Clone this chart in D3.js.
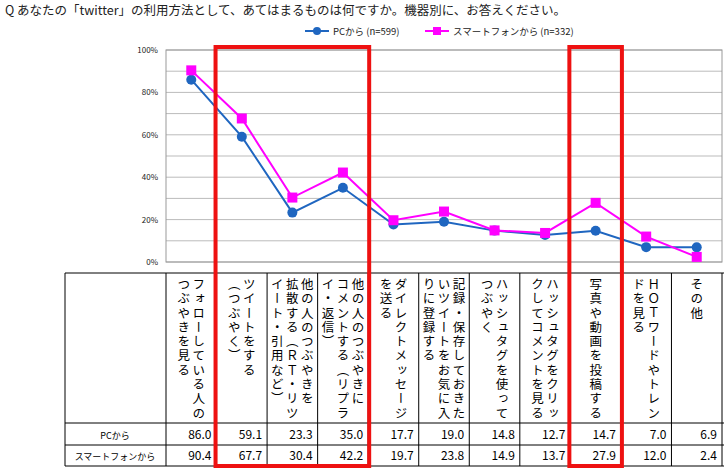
<!DOCTYPE html>
<html><head><meta charset="utf-8">
<script src="https://cdn.jsdelivr.net/npm/d3@7"></script>
<style>body{margin:0;background:#fff}text{font-family:"Noto Sans CJK JP",sans-serif}</style>
</head><body><div id="c"></div>
<script>
// カテゴリ（縦書き、右から左へ行が並ぶ）
const categories = [
  ["フォローしている人の","つぶやきを見る"],
  ["ツイートをする","（つぶやく）"],
  ["他の人のつぶやきを","拡散する（ＲＴ・リツ","イート・引用など）"],
  ["他の人のつぶやきに","コメントする（リプラ","イ・返信）"],
  ["ダイレクトメッセージ","を送る"],
  ["記録・保存しておきた","いツイートをお気に入","りに登録する"],
  ["ハッシュタグを使って","つぶやく"],
  ["ハッシュタグをクリッ","クしてコメントを見る"],
  ["写真や動画を投稿する"],
  ["ＨＯＴワードやトレン","ドを見る"],
  ["その他"]
];
const pcValues = [86.0,59.1,23.3,35.0,17.7,19.0,14.8,12.7,14.7,7.0,6.9];
const spValues = [90.4,67.7,30.4,42.2,19.7,23.8,14.9,13.7,27.9,12.0,2.4];
const seriesNames = ["PCから (n=599)","スマートフォンから (n=332)"];
const rowLabels = ["PCから","スマートフォンから"];
const yTicks = [0,20,40,60,80,100];
const highlights = [[1,3],[8,8]];

const W=728,H=472;
const svg=d3.select("#c").append("svg").attr("width",W).attr("height",H);
const x=d3.scaleBand().domain(d3.range(categories.length)).range([166,722]);
const y=d3.scaleLinear().domain([0,100]).range([262,50]);

svg.append("text").attr("x",5).attr("y",15).attr("font-size",12.5).attr("fill","#222")
  .text("Q あなたの「twitter」の利用方法として、あてはまるものは何ですか。機器別に、お答えください。");

// grid
svg.append("g").selectAll("line").data(d3.range(0,101,10)).join("line")
  .attr("x1",166).attr("x2",722).attr("y1",d=>y(d)).attr("y2",d=>y(d))
  .attr("stroke","#bbb").attr("stroke-width",1);
svg.append("rect").attr("x",166).attr("y",y(100)).attr("width",556).attr("height",y(0)-y(100))
  .attr("fill","none").attr("stroke","#999");
const ax=svg.append("g").attr("transform","translate(166,0)")
  .call(d3.axisLeft(y).tickValues(yTicks).tickFormat(d=>d+"%").tickSize(0).tickPadding(8));
ax.select(".domain").remove();
ax.selectAll("text").attr("font-size",8).attr("fill","#222");

const series=[{v:pcValues,c:"#1f66c0",sq:false},{v:spValues,c:"#ff00ff",sq:true}];
const line=d3.line().x((d,i)=>x(i)+x.bandwidth()/2).y(d=>y(d));
series.forEach(s=>{
  svg.append("path").attr("d",line(s.v)).attr("fill","none").attr("stroke",s.c).attr("stroke-width",2);
  const g=svg.append("g");
  if(s.sq) g.selectAll("rect").data(s.v).join("rect")
    .attr("x",(d,i)=>x(i)+x.bandwidth()/2-5).attr("y",d=>y(d)-5).attr("width",10).attr("height",10).attr("fill",s.c);
  else g.selectAll("circle").data(s.v).join("circle")
    .attr("cx",(d,i)=>x(i)+x.bandwidth()/2).attr("cy",d=>y(d)).attr("r",5).attr("fill",s.c);
});

// legend
[[305,0],[425,1]].forEach(([lx,i])=>{
  const s=series[i];
  svg.append("line").attr("x1",lx).attr("x2",lx+24).attr("y1",31).attr("y2",31).attr("stroke",s.c).attr("stroke-width",2);
  if(s.sq) svg.append("rect").attr("x",lx+8).attr("y",27).attr("width",8).attr("height",8).attr("fill",s.c);
  else svg.append("circle").attr("cx",lx+12).attr("cy",31).attr("r",4).attr("fill",s.c);
  svg.append("text").attr("x",lx+28).attr("y",35).attr("font-size",9.5).attr("fill","#222").text(seriesNames[i]);
});

// table
const tTop=273,hBot=423,r1=445,r2=466,tLeft=65;
const tg=svg.append("g").attr("stroke","#000").attr("stroke-width",1);
[tTop,hBot,r1,r2].forEach(yy=>tg.append("line").attr("x1",tLeft).attr("x2",724).attr("y1",yy).attr("y2",yy));
tg.append("line").attr("x1",tLeft).attr("x2",tLeft).attr("y1",tTop).attr("y2",r2);
d3.range(categories.length+1).forEach(i=>{
  const xx=i<categories.length?x(i):722;
  tg.append("line").attr("x1",xx).attr("x2",xx).attr("y1",tTop).attr("y2",r2);
});
categories.forEach((lines,i)=>{
  const cx=x(i)+x.bandwidth()/2, n=lines.length, step=15;
  lines.forEach((ln,j)=>{
    const lx=cx+(n-1)*step/2-j*step;
    svg.append("text").attr("x",lx).attr("y",278).attr("font-size",12.5)
      .style("writing-mode","vertical-rl").attr("letter-spacing",1.8).attr("fill","#000").text(ln);
  });
});
[pcValues,spValues].forEach((vals,r)=>{
  const yy=r?r2-6:r1-6;
  svg.append("text").attr("x",115).attr("y",yy).attr("text-anchor","middle").attr("font-size",9).text(rowLabels[r]);
  vals.forEach((v,i)=>svg.append("text").attr("x",x(i)+x.bandwidth()-5).attr("y",yy)
    .attr("text-anchor","end").attr("font-size",12).text(v.toFixed(1)));
});

// highlight boxes
highlights.forEach(([a,b])=>{
  svg.append("rect").attr("x",x(a)-1).attr("y",47).attr("width",x(b)+x.bandwidth()-x(a)+2).attr("height",419)
    .attr("fill","none").attr("stroke","#ee1111").attr("stroke-width",4);
});
</script></body></html>
